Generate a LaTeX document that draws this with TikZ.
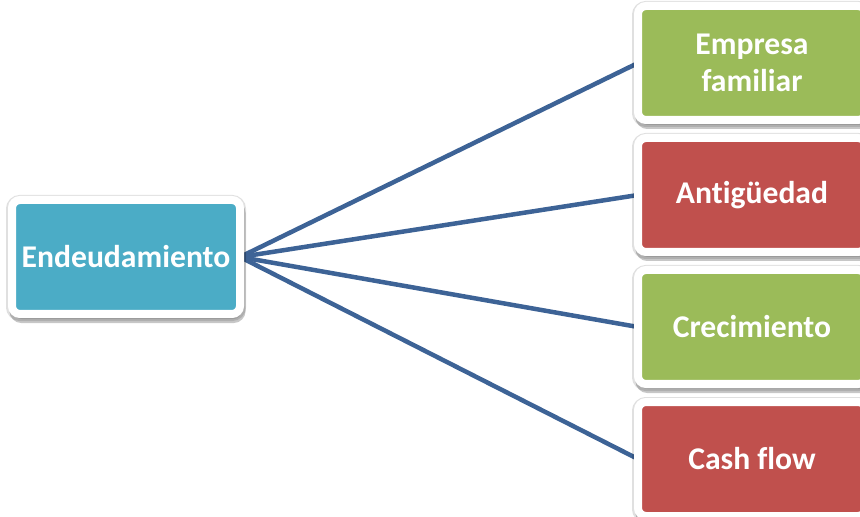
\documentclass[tikz,border=0pt]{standalone}
\usepackage{fontspec}
\setmainfont{Carlito}[Ligatures=NoCommon]
\usetikzlibrary{positioning}
\usetikzlibrary{shadows}
\usetikzlibrary{backgrounds}

\definecolor{aquafill}{RGB}{75,172,198}
\definecolor{greenfill}{RGB}{155,187,89}
\definecolor{redfill}{RGB}{192,80,77}
\definecolor{linkblue}{RGB}{61,99,150}

\tikzset{
    factor/.style={rectangle, rounded corners=0.16cm, minimum width=4.56cm, minimum height=2.28cm,
        inner sep=0pt, outer sep=0pt, draw=white, line width=0.16cm, text=white, align=center,
        font=\fontsize{18}{21}\selectfont\bfseries,
        drop shadow={opacity=0.22, draw=black, line width=0.16cm, shadow xshift=0.03cm, shadow yshift=-0.1cm},
        drop shadow={opacity=0.12, draw=black, line width=0.24cm, shadow xshift=0cm, shadow yshift=-0.02cm}},
    link/.style={draw=linkblue, line width=0.09cm}
}

\begin{document}
\begin{tikzpicture}
    \useasboundingbox (0,0) rectangle (17.2,-10.34);
    \clip (0,0) rectangle (17.2,-10.34);
    \node (endeudamiento) [factor, fill=aquafill] at (2.52,-5.14) {Endeudamiento};
    \node (empresa) [factor, fill=greenfill] at (15.04,-1.26) {Empresa\\familiar};
    \node (antiguedad) [factor, fill=redfill, below = 0.36cm of empresa] {Antigüedad};
    \node (crecimiento) [factor, fill=greenfill, below = 0.36cm of antiguedad] {Crecimiento};
    \node (cashflow) [factor, fill=redfill, below = 0.36cm of crecimiento] {Cash flow};
    \begin{scope}[on background layer]
        \draw [link] (endeudamiento.east) -- (empresa.west);
        \draw [link] (endeudamiento.east) -- (antiguedad.west);
        \draw [link] (endeudamiento.east) -- (crecimiento.west);
        \draw [link] (endeudamiento.east) -- (cashflow.west);
    \end{scope}
\end{tikzpicture}
\end{document}
